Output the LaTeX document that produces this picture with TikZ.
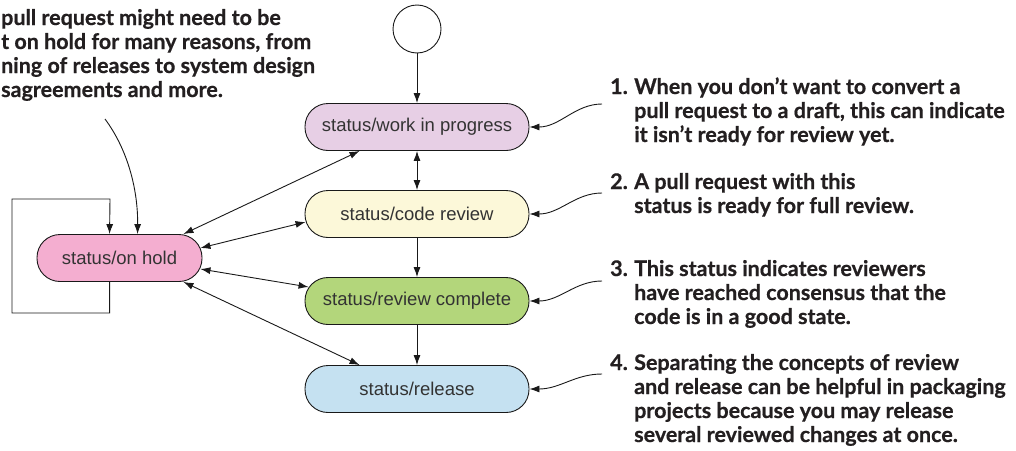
\documentclass[tikz,border=0pt]{standalone}
\usepackage{fontspec}
\setmainfont{Liberation Sans}
\newfontfamily\notefont{Lato}[BoldFeatures={FakeBold=0.6}]
\usetikzlibrary{arrows.meta,calc}
\definecolor{wipc}{HTML}{E7CFE5}
\definecolor{crc}{HTML}{FCF8D9}
\definecolor{rcc}{HTML}{B3D67B}
\definecolor{relc}{HTML}{C5E1F1}
\definecolor{holdc}{HTML}{F4AED0}
\definecolor{ink}{HTML}{231F20}
\definecolor{stxt}{HTML}{333333}
\tikzset{
  state/.style={draw=black!90, line width=0.9pt, rectangle, rounded corners=23pt,
    minimum width=224pt, minimum height=47pt, inner sep=0pt, text=stxt,
    font=\fontsize{18.5}{22}\selectfont},
  startc/.style={draw=black!90, line width=0.9pt, circle, minimum size=48pt, inner sep=0pt},
  arr/.style={draw=black!90, line width=0.9pt, -{Latex[length=10pt,width=7pt]}},
  darr/.style={draw=black!90, line width=0.9pt, {Latex[length=10pt,width=7pt]}-{Latex[length=10pt,width=7pt]}},
  note/.style={anchor=base west, align=left, inner sep=0pt, text=ink,
    font=\notefont\bfseries\fontsize{21.5}{24}\selectfont},
}
\newcommand{\ind}{\hspace*{24pt}}
\newcommand{\num}[1]{\makebox[24pt][l]{#1}}
\begin{document}
\begin{tikzpicture}[x=1pt,y=-1pt]
\useasboundingbox (0,0) rectangle (1016,450);
% states
\node[startc] (start) at (417,29) {};
\node[state, fill=wipc] (wip) at (417,127) {status/work in progress};
\node[state, fill=crc] (cr) at (417,214) {status/code review};
\node[state, fill=rcc] (rc) at (417,301) {status/review complete};
\node[state, fill=relc] (rel) at (417,389) {status/release};
\node[state, fill=holdc, minimum width=165pt] (hold) at (119.5,258) {status/on hold};
% main flow
\draw[arr] (start) -- (wip);
\draw[darr] (wip) -- (cr);
\draw[arr] (cr) -- (rc);
\draw[arr] (rc) -- (rel);
% on hold links
\draw[darr] ($(hold.north east)+(-19,0)$) -- ($(wip.south west)+(55,0)$);
\draw[darr] ($(hold.east)+(-2,-10)$) -- ($(cr.west)+(1,8)$);
\draw[darr] ($(hold.east)+(-2,11)$) -- ($(rc.west)+(4,-14)$);
\draw[darr] ($(hold.south east)+(-19,0)$) -- ($(rel.north west)+(55,0)$);
% self loop
\coordinate (lb) at (12,313);
\coordinate (lt) at (110,199);
\draw[arr] ($(hold.south west)+(73,0)$) |- (lb) |- (lt) -- ($(hold.north west)+(73,0)$);
% left note (last line baseline)
\node[note] (ln) at (1,97) {pull request might need to be\\t on hold for many reasons, from\\ning of releases to system design\\sagreements and more.};
\coordinate (c0) at (105,119);
\draw[arr] (c0) .. controls (128,150) and (138,190) .. ($(hold.north west)+(101,0)$);
% right notes (anchor = baseline of last line)
\node[note] (n1) at (610,142) {\num{1.}When you don’t want to convert a\\\ind pull request to a draft, this can indicate\\\ind it isn’t ready for review yet.};
\node[note] (n2) at (610,213) {\num{2.}A pull request with this\\\ind status is ready for full review.};
\node[note] (n3) at (610,324) {\num{3.}This status indicates reviewers\\\ind have reached consensus that the\\\ind code is in a good state.};
\node[note] (n4) at (610,442) {\num{4.}Separating the concepts of review\\\ind and release can be helpful in packaging\\\ind projects because you may release\\\ind several reviewed changes at once.};
\coordinate (a1) at (602,104);
\coordinate (a2) at (602,193);
\coordinate (a3) at (602,281);
\coordinate (a4) at (602,374);
\draw[arr] (a1) .. controls (575,104) and (560,127) .. (wip.east);
\draw[arr] (a2) .. controls (575,193) and (560,214) .. (cr.east);
\draw[arr] (a3) .. controls (575,281) and (560,301) .. (rc.east);
\draw[arr] (a4) .. controls (575,374) and (560,389) .. (rel.east);
\end{tikzpicture}
\end{document}
